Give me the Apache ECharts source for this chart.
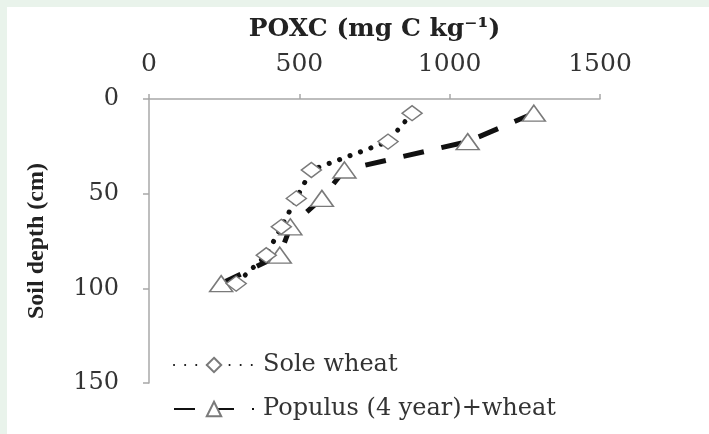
<!DOCTYPE html>
<html>
<head>
<meta charset="utf-8">
<script src="https://cdn.jsdelivr.net/npm/echarts@6/dist/echarts.min.js"></script>
<style>
  html, body { margin: 0; padding: 0; background: #e9f3eb; }
  #main { position: absolute; left: 7px; top: 7px; width: 702px; height: 427px; background: #fff; }
</style>
</head>
<body>
<div id="main"></div>
<script>
// POXC (mg C kg-1) by soil depth (cm)
var depths = [7.5, 22.5, 37.5, 52.5, 67.5, 82.5, 97.5]
var soleWheat = [875, 795, 540, 490, 440, 390, 290]
var populusWheat = [1280, 1060, 650, 575, 470, 435, 240]
var seriesNames = ['Sole wheat', 'Populus (4 year)+wheat']
var xTicks = [0, 1500, 500]   // min, max, interval
var yTicks = [0, 150, 50]

function pairs(xs) {
  return xs.map(function (v, i) { return [v, depths[i]] })
}

var chart = echarts.init(document.getElementById('main'))
var serif = 'DejaVu Serif'

chart.setOption({
  animation: false,
  grid: {
    left: 142,
    top: 92,
    width: 451,
    height: 284,
    outerBoundsMode: 'none'
  },
  legend: {
    orient: 'vertical',
    left: 161,
    top: 341,
    itemWidth: 80,
    itemHeight: 18,
    itemGap: 20,
    textStyle: { fontFamily: serif, fontSize: 24, color: '#333', padding: [0, 0, 0, 4] },
    data: seriesNames
  },
  xAxis: {
    type: 'value',
    position: 'top',
    min: xTicks[0],
    max: xTicks[1],
    interval: xTicks[2],
    name: 'POXC (mg C kg⁻¹)',
    nameLocation: 'middle',
    nameGap: 57,
    nameTextStyle: { fontFamily: serif, fontWeight: 'bold', fontSize: 25, color: '#222' },
    axisLine: { lineStyle: { color: '#a8a8a8', width: 1.5 } },
    axisTick: { show: true, length: 5, lineStyle: { color: '#a8a8a8', width: 1.5 } },
    axisLabel: { fontFamily: serif, fontSize: 25, color: '#333', margin: 22, formatter: function (v) { return String(v) } },
    splitLine: { show: false }
  },
  yAxis: {
    type: 'value',
    inverse: true,
    min: yTicks[0],
    max: yTicks[1],
    interval: yTicks[2],
    name: 'Soil depth (cm)',
    nameLocation: 'middle',
    nameGap: 100,
    nameTextStyle: { fontFamily: 'Liberation Serif', fontWeight: 'bold', fontSize: 24, color: '#222' },
    axisLine: { show: true, lineStyle: { color: '#a8a8a8', width: 1.5 } },
    axisTick: { show: true, length: 6, lineStyle: { color: '#a8a8a8', width: 1.5 } },
    axisLabel: { fontFamily: serif, fontSize: 24, color: '#333', margin: 30, formatter: function (v) { return String(v) } },
    splitLine: { show: false }
  },
  series: [
    {
      name: seriesNames[1],
      type: 'line',
      data: pairs(populusWheat),
      symbol: 'triangle',
      symbolSize: [23, 16],
      lineStyle: { color: '#111', width: 5, type: [21, 18] },
      itemStyle: { color: '#fff', borderColor: '#7a7a7a', borderWidth: 1.5 }
    },
    {
      name: seriesNames[0],
      type: 'line',
      data: pairs(soleWheat),
      symbol: 'diamond',
      symbolSize: [20, 15],
      lineStyle: { color: '#111', width: 5, type: [0.1, 11], cap: 'round' },
      itemStyle: { color: '#fff', borderColor: '#7a7a7a', borderWidth: 1.5 }
    }
  ]
})
</script>
</body>
</html>
